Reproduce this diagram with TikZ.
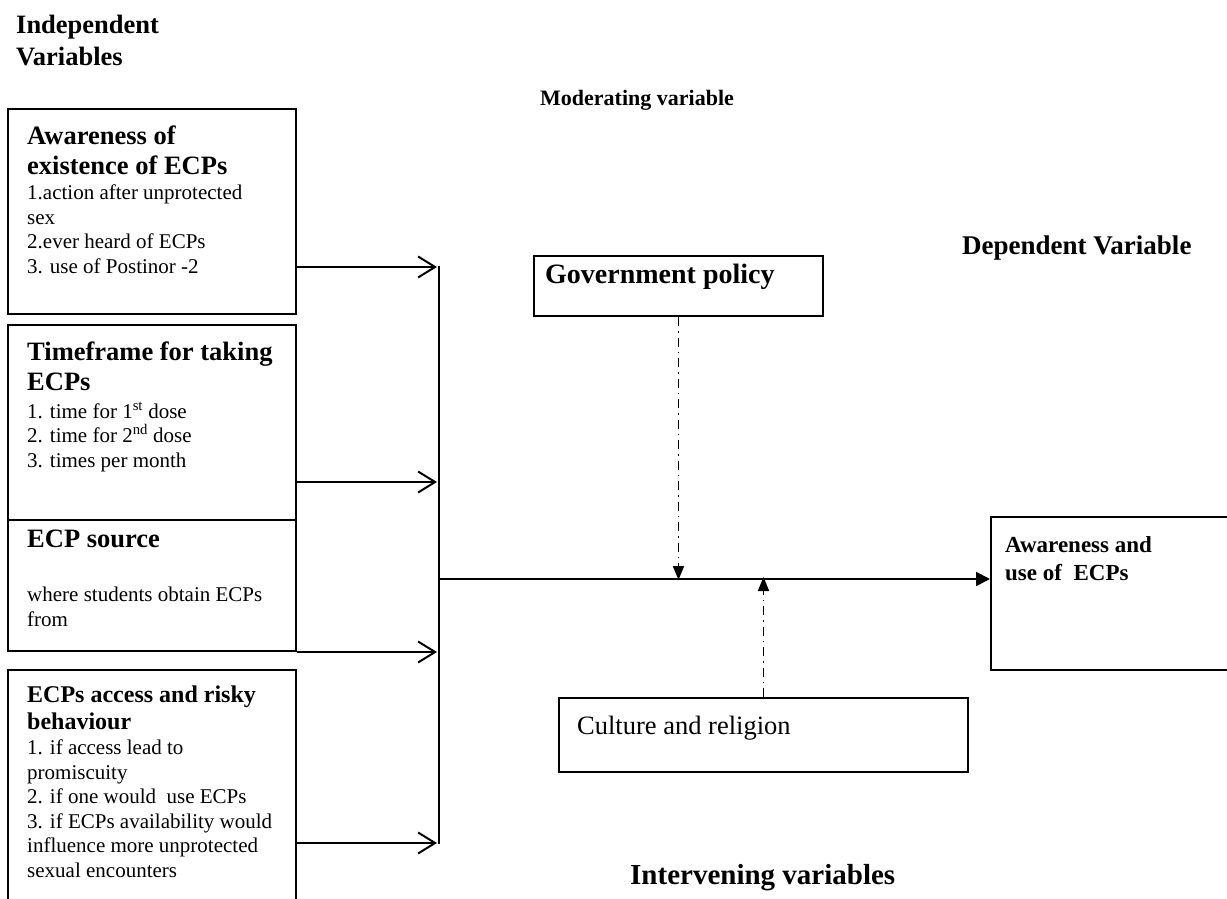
\documentclass[tikz,border=0pt]{standalone}
\usepackage{fontspec}
\setmainfont{Liberation Serif}
\usetikzlibrary{arrows.meta}
\begin{document}
\begin{tikzpicture}[x=1pt,y=-1pt,
  box/.style={draw,line width=2pt,anchor=north west,inner sep=0pt},
  ttl/.style={anchor=north west,align=left,inner sep=0pt,font=\fontsize{26.5}{30}\selectfont\bfseries},
  ttlsmall/.style={anchor=north west,align=left,inner sep=0pt,font=\fontsize{24}{27}\selectfont\bfseries},
  bodytxt/.style={anchor=north west,align=left,inner sep=0pt,font=\fontsize{21}{24.5}\selectfont},
  head/.style={anchor=north west,align=left,inner sep=0pt,font=\fontsize{26.5}{32}\selectfont\bfseries},
  feed/.style={line width=2pt,-{Straight Barb[length=17pt,width=21pt,line width=2pt]}},
  mainarrow/.style={line width=2pt,-{Triangle[length=14pt,width=14pt]}},
  dashdot/.style={line width=1.8pt,dash pattern=on 9pt off 5pt on 1.5pt off 5pt,-{Triangle[length=14pt,width=11pt]}}]
\useasboundingbox (0,0) rectangle (1227,899);
\clip (0,0) rectangle (1227,899);
\fill[white] (0,0) rectangle (1227,899);

% headings
\node[head] (hind) at (16,15) {Independent\\Variables};
\node[head,font=\fontsize{22}{26}\selectfont\bfseries] (hmod) at (540,90.5) {Moderating variable};
\node[head,font=\fontsize{27}{30}\selectfont\bfseries] (hdep) at (962,235.5) {Dependent Variable};
\node[head,font=\fontsize{29}{32}\selectfont\bfseries] (hint) at (630,864) {Intervening variables};

% independent boxes
\node[box,minimum width=288pt,minimum height=205pt] (b1) at (7,108) {};
\node[ttl] (t1) at (27,125.5) {Awareness of\\existence of ECPs};
\node[bodytxt] (d1) at (27,185) {1.action after unprotected\\sex\\2.ever heard of ECPs\\3. use of Postinor -2};

\node[box,minimum width=288pt,minimum height=195pt] (b2) at (7,324) {};
\node[ttl] (t2) at (27,341.5) {Timeframe for taking\\ECPs};
\node[bodytxt] (d2) at (27,402) {1. time for 1\textsuperscript{st} dose\\2. time for 2\textsuperscript{nd} dose\\3. times per month};

\node[box,minimum width=288pt,minimum height=131pt] (b3) at (7,519) {};
\node[ttl] (t3) at (27,529.5) {ECP source};
\node[bodytxt] (d3) at (27,587) {where students obtain ECPs\\from};

\node[box,minimum width=288pt,minimum height=260pt] (b4) at (7,669) {};
\node[ttlsmall] (t4) at (27,686) {ECPs access and risky\\behaviour};
\node[bodytxt] (d4) at (27,740) {1. if access lead to\\promiscuity\\2. if one would\ \ use ECPs\\3. if ECPs availability would\\influence more unprotected\\sexual encounters};

% moderating, intervening, dependent
\node[box,minimum width=289pt,minimum height=60pt] (gov) at (533,255) {};
\node[ttl,font=\fontsize{28}{30}\selectfont\bfseries] (tgov) at (545,263.5) {Government policy};

\node[box,minimum width=409pt,minimum height=74pt] (cult) at (558,697) {};
\node[bodytxt,font=\fontsize{26.5}{30}\selectfont] (tcult) at (577,716) {Culture and religion};

\node[box,minimum width=260pt,minimum height=153pt] (dep) at (990,516) {};
\node[ttl,font=\fontsize{23}{28}\selectfont\bfseries] (tdep) at (1005,536) {Awareness and\\use of\ \ ECPs};

% junction
\coordinate (ja) at (437,267);
\coordinate (jb) at (437,482);
\coordinate (jc) at (437,650);
\coordinate (jd) at (437,843);
\coordinate (top) at (439,266);
\coordinate (bot) at (439,844);
\coordinate (hub) at (439,579);

\draw[line width=2pt] (top) -- (bot);
\draw[feed] (b1.east |- ja) -- (ja);
\draw[feed] (b2.east |- jb) -- (jb);
\draw[feed] (b3.south east) -- (jc |- b3.south east);
\draw[feed] (b4.east |- jd) -- (jd);

\draw[mainarrow] (hub) -- (dep.west |- hub);
\draw[dashdot] (gov.south) -- ([yshift=-1pt]gov.south |- hub);
\draw[dashdot] (cult.north) -- ([yshift=2pt]cult.north |- hub);
\end{tikzpicture}
\end{document}
